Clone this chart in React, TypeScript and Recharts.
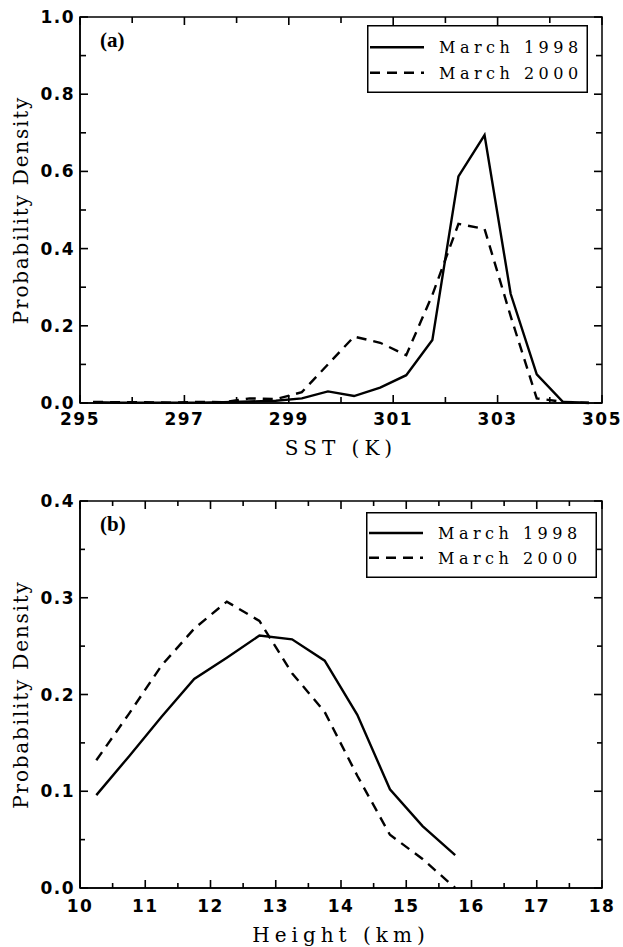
import React from 'react';
import { LineChart, Line, XAxis, YAxis, Legend, Label, ReferenceArea } from 'recharts';

// ---------- Data ----------
const sstBins = [295.25, 295.75, 296.25, 296.75, 297.25, 297.75, 298.25, 298.75, 299.25, 299.75,
  300.25, 300.75, 301.25, 301.75, 302.25, 302.75, 303.25, 303.75, 304.25, 304.75];
const sstMarch1998 = [0.002, 0.001, 0.001, 0.001, 0.001, 0.002, 0.004, 0.006, 0.012, 0.030,
  0.018, 0.040, 0.072, 0.163, 0.587, 0.694, 0.283, 0.074, 0.003, 0.001];
const sstMarch2000 = [0.003, 0.002, 0.002, 0.001, 0.003, 0.002, 0.012, 0.010, 0.028, 0.100,
  0.172, 0.156, 0.124, 0.280, 0.464, 0.451, 0.225, 0.012, 0.003, 0.000];
const sstXTicks = [295, 296, 297, 298, 299, 300, 301, 302, 303, 304, 305];
const sstYTicks = [0, 0.1, 0.2, 0.3, 0.4, 0.5, 0.6, 0.7, 0.8, 0.9, 1.0];

const heightBins = [10.25, 10.75, 11.25, 11.75, 12.25, 12.75, 13.25, 13.75, 14.25, 14.75, 15.25, 15.75];
const heightMarch1998 = [0.096, 0.136, 0.177, 0.216, 0.238, 0.261, 0.257, 0.235, 0.179, 0.102, 0.064, 0.034];
const heightMarch2000 = [0.132, 0.180, 0.230, 0.268, 0.296, 0.276, 0.222, 0.182, 0.116, 0.055, 0.030, 0.000];
const heightXTicks = [10, 10.5, 11, 11.5, 12, 12.5, 13, 13.5, 14, 14.5, 15, 15.5, 16, 16.5, 17, 17.5, 18];
const heightYTicks = [0, 0.05, 0.1, 0.15, 0.2, 0.25, 0.3, 0.35, 0.4];

const seriesNames = ['March 1998', 'March 2000'];
const seriesDash = ['', '10 7'];
const panelLabels = ['(a)', '(b)'];
const xTitles = ['SST (K)', 'Height (km)'];
const yTitle = 'Probability Density';

const sstData = sstBins.map((x, i) => ({ x, m1998: sstMarch1998[i], m2000: sstMarch2000[i] }));
const heightData = heightBins.map((x, i) => ({ x, m1998: heightMarch1998[i], m2000: heightMarch2000[i] }));

// ---------- Styles ----------
const TICK_FONT = '"DejaVu Sans", sans-serif';
const SERIF = '"DejaVu Serif", serif';
const PANEL_FONT = '"Liberation Serif", serif';
const AXIS_LINE = { stroke: '#000', strokeWidth: 1.5 };
const TW = 1.6; // tick mark thickness

// Custom tick: recharts gives the point on the axis line (tickSize=0, tickMargin=0).
// Marks are drawn inward, mirrored on the opposite side of the frame (span = plot size).
function makeTick(side: 'bottom' | 'left', majorLen: number, minorLen: number, span: number,
  fmt: (v: number) => string, labelDy = 22) {
  return (props: any) => {
    const x = Number(props.x);
    const y = Number(props.y);
    const index = Number(props.index) || 0;
    const major = index % 2 === 0;
    const len = major ? majorLen : minorLen;
    if (side === 'bottom') {
      return (
        <g>
          <rect x={x - TW / 2} y={y - len} width={TW} height={len} fill="#000" />
          <rect x={x - TW / 2} y={y - span} width={TW} height={len} fill="#000" />
          {major ? (
            <text x={x} y={y + labelDy} textAnchor="middle" fontFamily={TICK_FONT} fontWeight="bold"
              fontSize={17} letterSpacing={1.5} fill="#000">{fmt(props.payload.value)}</text>
          ) : null}
        </g>
      );
    }
    return (
      <g>
        <rect x={x} y={y - TW / 2} width={len} height={TW} fill="#000" />
        <rect x={x + span - len} y={y - TW / 2} width={len} height={TW} fill="#000" />
        {major ? (
          <text x={x - 5} y={y + 6} textAnchor="end" fontFamily={TICK_FONT} fontWeight="bold"
            fontSize={17} letterSpacing={1.5} fill="#000">{fmt(props.payload.value)}</text>
        ) : null}
      </g>
    );
  };
}

const yLabelContent = (props: any) => {
  const vb = props.viewBox || {};
  const x = vb.x + 28;
  const y = vb.y + vb.height / 2;
  return (
    <text x={x} y={y} transform={`rotate(-90, ${x}, ${y})`} textAnchor="middle" fontFamily={SERIF}
      fontSize={20} letterSpacing={1.8} fill="#000">{yTitle}</text>
  );
};

const makeXLabel = (text: string, dy: number) => (props: any) => {
  const vb = props.viewBox || {};
  return (
    <text x={vb.x + vb.width / 2} y={vb.y + dy} textAnchor="middle" fontFamily={SERIF}
      fontSize={20} letterSpacing={5} fill="#000">{text}</text>
  );
};

const makePanelLabel = (text: string) => (props: any) => {
  const vb = props.viewBox || {};
  return (
    <text x={vb.x + 20} y={vb.y + 30} fontFamily={PANEL_FONT} fontWeight="bold" fontSize={21} fill="#000">{text}</text>
  );
};

const makeLegend = (w: number, h: number, rows: number[]) => (props: any) => {
  const payload = props.payload || [];
  return (
    <svg width={w} height={h} style={{ display: 'block' }}>
      <rect x={0.75} y={0.75} width={w - 1.5} height={h - 1.5} fill="#fff" stroke="#000" strokeWidth={1.5} />
      {payload.map((p: any, i: number) => (
        <g key={i}>
          <line x1={3} x2={57} y1={rows[i]} y2={rows[i]} stroke="#000" strokeWidth={2.6}
            strokeDasharray={seriesDash[i] || undefined} />
          <text x={72} y={rows[i] + 6} fontFamily={SERIF} fontSize={16} letterSpacing={4.5} fill="#000">
            {p.value}
          </text>
        </g>
      ))}
    </svg>
  );
};

const fmt1 = (v: number) => v.toFixed(1);
const fmt0 = (v: number) => String(Math.round(v));

export default function App() {
  return (
    <div style={{ position: 'absolute', left: 0, top: 0, width: 623, height: 947, background: '#fff' }}>
      <LineChart width={623} height={470} data={sstData} margin={{ top: 17, right: 21, bottom: 0, left: 0 }}>
        <XAxis dataKey="x" type="number" domain={[295, 305]} ticks={sstXTicks} interval={0}
          tickSize={0} tickMargin={0} tickLine={false} axisLine={AXIS_LINE} height={67}
          tick={makeTick('bottom', 8, 6, 386, fmt0, 22)}>
          <Label content={makeXLabel(xTitles[0], 52)} />
        </XAxis>
        <YAxis type="number" domain={[0, 1]} ticks={sstYTicks} interval={0} width={80}
          tickSize={0} tickMargin={0} tickLine={false} axisLine={AXIS_LINE}
          tick={makeTick('left', 8, 6, 522, fmt1)}>
          <Label content={yLabelContent} />
        </YAxis>
        <ReferenceArea x1={295} x2={305} y1={0} y2={1} fill="none" stroke="#000" strokeWidth={1.5}
          fillOpacity={0} ifOverflow="visible" label={{ content: makePanelLabel(panelLabels[0]) }} />
        <Line type="linear" dataKey="m1998" name={seriesNames[0]} stroke="#000" strokeWidth={2.4}
          dot={false} activeDot={false} isAnimationActive={false} />
        <Line type="linear" dataKey="m2000" name={seriesNames[1]} stroke="#000" strokeWidth={2.4}
          strokeDasharray={seriesDash[1]} dot={false} activeDot={false} isAnimationActive={false} />
        <Legend layout="vertical" align="center" verticalAlign="middle"
          wrapperStyle={{ left: 367, top: 25, width: 221, height: 68 }}
          content={makeLegend(221, 68, [22.3, 47.7])} />
      </LineChart>
      <LineChart width={623} height={477} data={heightData} margin={{ top: 31, right: 21, bottom: 0, left: 0 }}>
        <XAxis dataKey="x" type="number" domain={[10, 18]} ticks={heightXTicks} interval={0}
          tickSize={0} tickMargin={0} tickLine={false} axisLine={AXIS_LINE} height={59}
          tick={makeTick('bottom', 8, 5, 387, fmt0, 24)}>
          <Label content={makeXLabel(xTitles[1], 54)} />
        </XAxis>
        <YAxis type="number" domain={[0, 0.4]} ticks={heightYTicks} interval={0} width={80}
          tickSize={0} tickMargin={0} tickLine={false} axisLine={AXIS_LINE}
          tick={makeTick('left', 8, 5, 522, fmt1)}>
          <Label content={yLabelContent} />
        </YAxis>
        <ReferenceArea x1={10} x2={18} y1={0} y2={0.4} fill="none" stroke="#000" strokeWidth={1.5}
          fillOpacity={0} ifOverflow="visible" label={{ content: makePanelLabel(panelLabels[1]) }} />
        <Line type="linear" dataKey="m1998" name={seriesNames[0]} stroke="#000" strokeWidth={2.4}
          dot={false} activeDot={false} isAnimationActive={false} />
        <Line type="linear" dataKey="m2000" name={seriesNames[1]} stroke="#000" strokeWidth={2.4}
          strokeDasharray={seriesDash[1]} dot={false} activeDot={false} isAnimationActive={false} />
        <Legend layout="vertical" align="center" verticalAlign="middle"
          wrapperStyle={{ left: 366, top: 42, width: 231, height: 66 }}
          content={makeLegend(231, 66, [21, 45.7])} />
      </LineChart>
    </div>
  );
}
